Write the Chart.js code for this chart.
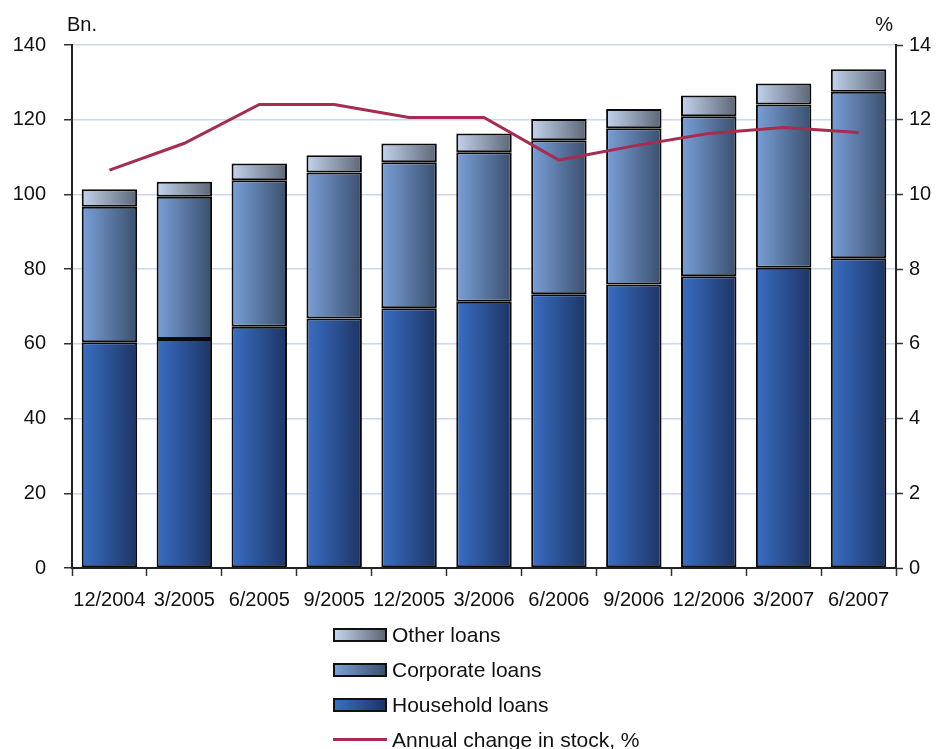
<!DOCTYPE html>
<html>
<head>
<meta charset="utf-8">
<script src="https://cdn.jsdelivr.net/npm/chart.js@4/dist/chart.umd.min.js"></script>
<style>
  html, body { margin: 0; padding: 0; background: #fff; }
  #wrap { position: relative; width: 936px; height: 749px; overflow: hidden; }
  #legend { position: absolute; left: 333px; top: 617px; font-family: "Liberation Sans", Arial, sans-serif; font-size: 21px; color: #111; }
  .item { display: flex; align-items: center; height: 35px; white-space: nowrap; }
  .sw { width: 50px; height: 10px; border: 2px solid #111; margin-right: 5px; }
  .ln { width: 54px; height: 3px; margin-right: 5px; }
</style>
</head>
<body>
<div id="wrap">
  <canvas id="c" width="936" height="749"></canvas>
  <div id="legend"></div>
</div>
<script>
const categories = ["12/2004","3/2005","6/2005","9/2005","12/2005","3/2006","6/2006","9/2006","12/2006","3/2007","6/2007"];
const householdLoans = [60.4, 61.3, 64.6, 66.8, 69.5, 71.3, 73.3, 75.9, 78.1, 80.4, 82.9];
const corporateLoans = [36.3, 38.1, 39.2, 39.1, 39.1, 40.0, 41.2, 41.8, 42.8, 43.7, 44.6];
const otherLoans     = [4.7, 4.0, 4.5, 4.6, 5.0, 5.0, 5.7, 5.2, 5.6, 5.6, 6.0];
const annualChange   = [10.65, 11.37, 12.41, 12.41, 12.06, 12.06, 10.92, 11.30, 11.63, 11.79, 11.66];
const leftTicks = [0, 20, 40, 60, 80, 100, 120, 140];
const rightTicks = [0, 2, 4, 6, 8, 10, 12, 14];

const FONT = "'Liberation Sans', Arial, sans-serif";
const BAR_PCT = 0.74;

const palettes = {
  household: ["#3a6ec4", "#1c3564"],
  corporate: ["#7aa0d8", "#3a4f6e"],
  other: ["#c4d4ee", "#5c6676"]
};

function gradientFill(pal) {
  return function(context) {
    const chart = context.chart;
    const xs = chart.scales && chart.scales.x;
    if (!chart.chartArea || !xs || context.dataIndex === undefined) return pal[0];
    const center = xs.getPixelForValue(context.dataIndex);
    const half = (xs.width / categories.length) * BAR_PCT / 2;
    const g = chart.ctx.createLinearGradient(center - half, 0, center + half, 0);
    g.addColorStop(0, pal[0]);
    g.addColorStop(1, pal[1]);
    return g;
  };
}

const barCommon = {
  type: 'bar',
  yAxisID: 'y',
  stack: 'loans',
  borderColor: '#0a0a0a',
  borderWidth: 2,
  borderSkipped: false,
  barPercentage: BAR_PCT,
  categoryPercentage: 1.0,
  order: 1
};

const unitLabels = {
  id: 'unitLabels',
  afterDraw(chart) {
    const ctx = chart.ctx;
    ctx.save();
    ctx.font = "20px " + FONT;
    ctx.fillStyle = '#111';
    ctx.textBaseline = 'middle';
    ctx.textAlign = 'left';
    ctx.fillText('Bn.', chart.chartArea.left - 5, 25);
    ctx.textAlign = 'right';
    ctx.fillText('%', chart.chartArea.right - 3, 25);
    ctx.restore();
  }
};

const chart = new Chart(document.getElementById('c'), {
  data: {
    labels: categories,
    datasets: [
      Object.assign({}, barCommon, { label: 'Household loans', data: householdLoans, backgroundColor: gradientFill(palettes.household), swatch: palettes.household }),
      Object.assign({}, barCommon, { label: 'Corporate loans', data: corporateLoans, backgroundColor: gradientFill(palettes.corporate), swatch: palettes.corporate }),
      Object.assign({}, barCommon, { label: 'Other loans', data: otherLoans, backgroundColor: gradientFill(palettes.other), swatch: palettes.other }),
      {
        type: 'line',
        label: 'Annual change in stock, %',
        data: annualChange,
        yAxisID: 'y1',
        borderColor: '#a62c50',
        backgroundColor: '#a62c50',
        borderWidth: 3,
        pointRadius: 0,
        tension: 0,
        fill: false,
        order: 0
      }
    ]
  },
  options: {
    responsive: false,
    animation: false,
    layout: { padding: { top: 45, left: 0, right: 0, bottom: 0 } },
    plugins: { legend: { display: false }, tooltip: { enabled: false }, title: { display: false } },
    scales: {
      x: {
        stacked: true,
        offset: true,
        grid: { offset: true, drawOnChartArea: false, drawTicks: true, tickLength: 8, tickColor: '#333', tickWidth: 1.5 },
        border: { display: true, color: '#222', width: 2 },
        ticks: { color: '#111', font: { family: FONT, size: 20 }, padding: 12, maxRotation: 0, autoSkip: false },
        afterFit(scale) { scale.height = 181; }
      },
      y: {
        stacked: true,
        position: 'left',
        min: 0, max: 140,
        afterBuildTicks(scale) { scale.ticks = leftTicks.map(v => ({ value: v })); },
        grid: { color: '#c9d8f0', lineWidth: 1.5, drawTicks: true, tickLength: 8, tickColor: '#333', tickWidth: 1.5 },
        border: { display: true, color: '#222', width: 2 },
        ticks: { color: '#111', font: { family: FONT, size: 20 }, padding: 18 },
        afterFit(scale) { scale.width = 72; }
      },
      y1: {
        position: 'right',
        min: 0, max: 14,
        afterBuildTicks(scale) { scale.ticks = rightTicks.map(v => ({ value: v })); },
        grid: { drawOnChartArea: false, drawTicks: true, tickLength: 7, tickColor: '#333', tickWidth: 1.5 },
        border: { display: true, color: '#222', width: 2 },
        ticks: { color: '#111', font: { family: FONT, size: 20 }, padding: 6 },
        afterFit(scale) { scale.width = 40; }
      }
    }
  },
  plugins: [unitLabels]
});

// HTML legend built from the chart's datasets (order: Other, Corporate, Household, line)
const legendEl = document.getElementById('legend');
[2, 1, 0, 3].forEach(i => {
  const ds = chart.data.datasets[i];
  const row = document.createElement('div');
  row.className = 'item';
  const sw = document.createElement('span');
  if (ds.type === 'line') {
    sw.className = 'ln';
    sw.style.background = ds.borderColor;
  } else {
    sw.className = 'sw';
    sw.style.background = 'linear-gradient(to right,' + ds.swatch[0] + ',' + ds.swatch[1] + ')';
  }
  const tx = document.createElement('span');
  tx.textContent = ds.label;
  row.appendChild(sw);
  row.appendChild(tx);
  legendEl.appendChild(row);
});
</script>
</body>
</html>
